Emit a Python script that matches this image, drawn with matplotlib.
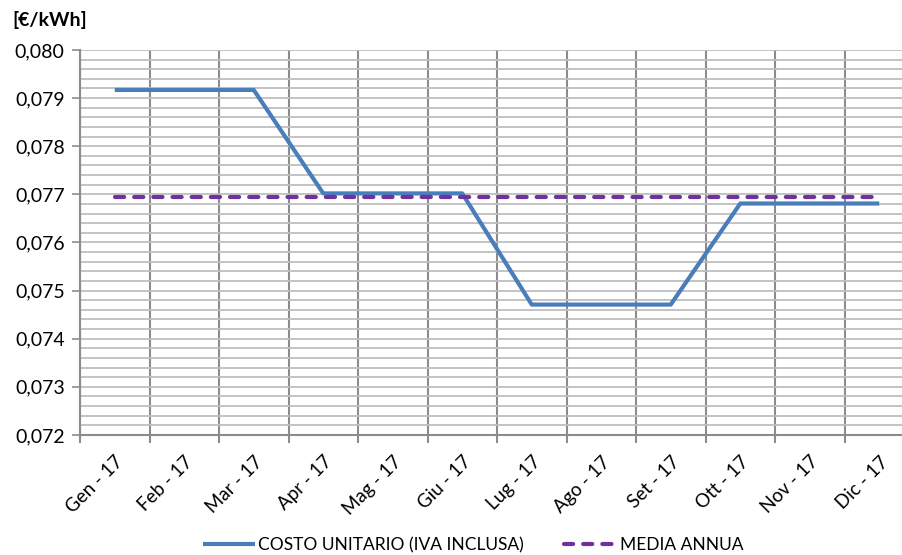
import matplotlib
matplotlib.use('Agg')
import matplotlib.pyplot as plt
from matplotlib.ticker import MultipleLocator, FuncFormatter, FixedLocator

mesi = ['Gen - 17', 'Feb - 17', 'Mar - 17', 'Apr - 17', 'Mag - 17', 'Giu - 17',
        'Lug - 17', 'Ago - 17', 'Set - 17', 'Ott - 17', 'Nov - 17', 'Dic - 17']
costo_unitario = [0.07917, 0.07917, 0.07917, 0.07702, 0.07702, 0.07702,
                  0.07471, 0.07471, 0.07471, 0.07681, 0.07681, 0.07681]
media_annua = [0.07694] * 12

plt.rcParams['font.family'] = ['Lato', 'DejaVu Sans']

fig = plt.figure(figsize=(9.03, 5.55), dpi=100)
# plot area runs past the right edge, as in the original image
ax = fig.add_axes([80/903, 1-435/555, 834/903, 385/555])

x = list(range(len(mesi)))
ax.plot(x, costo_unitario, color='#4A7EBB', lw=3, solid_capstyle='butt',
        label='COSTO UNITARIO (IVA INCLUSA)', zorder=3)
ax.plot(x, media_annua, color='#7030A0', lw=3, ls=(0, (2.2, 2.4)),
        dash_capstyle='round', label='MEDIA ANNUA', zorder=4)

ax.set_xlim(-0.5, len(mesi) - 0.5)
ax.set_ylim(0.072, 0.080)

# y axis
ax.yaxis.set_major_locator(MultipleLocator(0.001))
ax.yaxis.set_minor_locator(MultipleLocator(0.0002))
ax.yaxis.set_major_formatter(FuncFormatter(lambda v, p: ('%.3f' % v).replace('.', ',')))
ax.tick_params(axis='y', which='major', length=6, width=1.2, color='#8C8C8C',
               labelsize=14, pad=5, labelcolor='#000000')
ax.tick_params(axis='y', which='minor', length=0)
ax.grid(True, axis='y', which='both', color='#BEBEBE', lw=1.3, zorder=0)

# x axis: gridlines at category boundaries, labels at centres
ax.xaxis.set_major_locator(FixedLocator([i + 0.5 for i in range(-1, len(mesi))]))
ax.xaxis.set_major_formatter(FuncFormatter(lambda v, p: ''))
ax.xaxis.set_minor_locator(FixedLocator(x))
ax.set_xticklabels(mesi, minor=True, rotation=45, ha='right', va='top',
                   rotation_mode='anchor', fontsize=13.5)
ax.tick_params(axis='x', which='major', length=6, width=1.5, color='#8C8C8C')
ax.tick_params(axis='x', which='minor', length=0, pad=13)
ax.grid(True, axis='x', which='major', color='#8C8C8C', lw=1.5, zorder=0)

for s in ['top', 'right']:
    ax.spines[s].set_visible(False)
ax.spines['left'].set_color('#8C8C8C')
ax.spines['left'].set_linewidth(1.5)
ax.spines['bottom'].set_color('#8C8C8C')
ax.spines['bottom'].set_linewidth(1.5)

fig.text(12/903, 1-20/555, '[€/kWh]', fontsize=14, fontweight='bold', va='center', ha='left')

fig.legend(loc='center', bbox_to_anchor=(473/903, 1-545/555), ncol=2, frameon=False,
           fontsize=12.5, handlelength=3.0, columnspacing=2.3, handletextpad=0.2)

fig.savefig('out.png', dpi=100)
